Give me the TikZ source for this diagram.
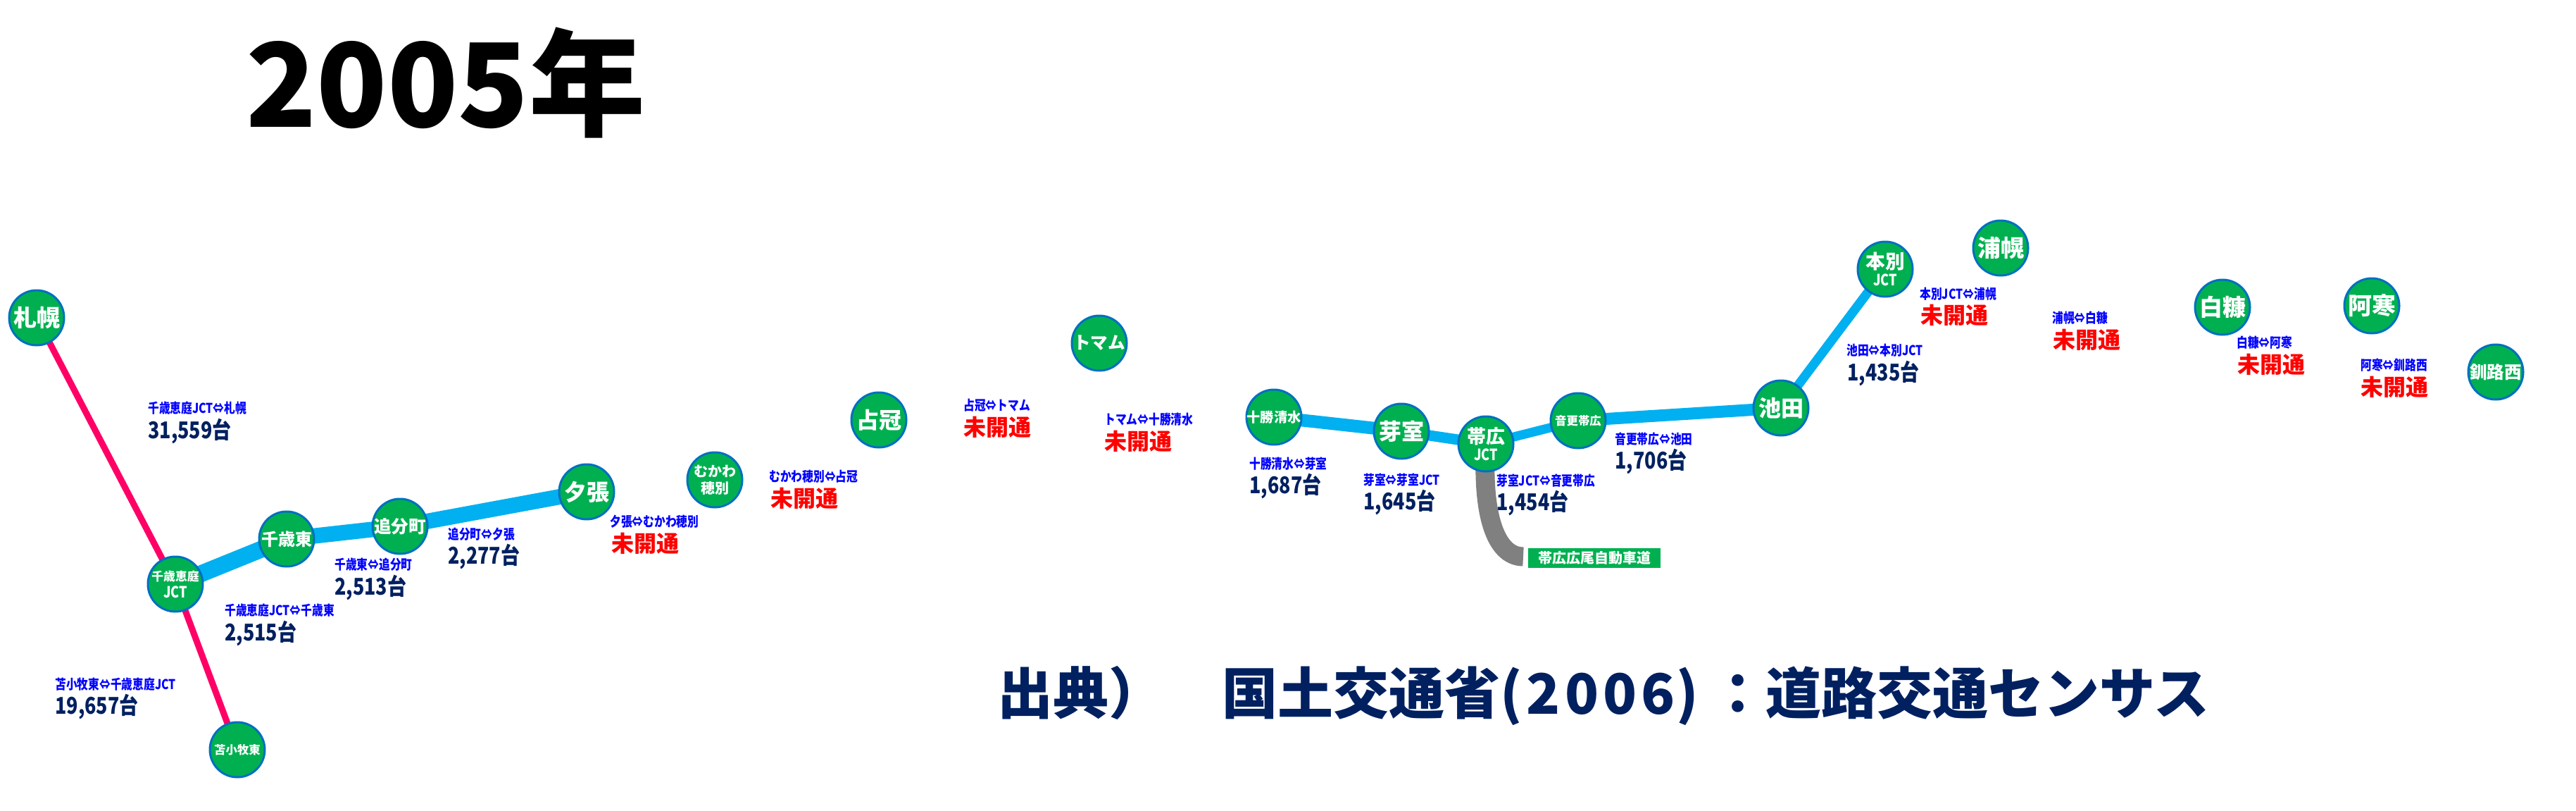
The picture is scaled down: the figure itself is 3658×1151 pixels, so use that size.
\documentclass[tikz,border=0pt]{standalone}
\usepackage{fontspec}
\setmainfont{Noto Sans CJK JP}
\newfontfamily\cond[FakeStretch=0.82]{Noto Sans CJK JP}
\newcommand\zb[1]{\makebox[0pt]{#1}}
\newcommand\nm[2]{\fontsize{#1}{#1}\selectfont\bfseries\zb{#2}}
\newcommand\jct[3]{\fontsize{#1}{#3}\selectfont\bfseries\zb{#2}\\\cond\fontsize{11}{#3}\selectfont\bfseries\zb{JCT}}
\newcommand\twol[3]{\fontsize{#1}{12}\selectfont\bfseries\zb{#2}\\\zb{#3}}
\definecolor{navy}{HTML}{002060}
\definecolor{grn}{HTML}{00B050}
\definecolor{edge}{HTML}{0070C0}
\definecolor{road}{HTML}{00B0F0}
\definecolor{pinkroad}{HTML}{FF0066}
\tikzset{
 stn/.style={circle,draw=edge,fill=grn,line width=1.5pt,minimum size=39pt,inner sep=0pt,text=white,align=center,font=\bfseries},
 sec/.style={anchor=west,inner sep=0pt,text=blue,font=\cond\bfseries\fontsize{9.6}{9.6}\selectfont},
 cnt/.style={anchor=west,inner sep=0pt,text=navy,font=\cond\bfseries\fontsize{16.4}{16.4}\selectfont},
 nop/.style={anchor=west,inner sep=0pt,text=red,font=\bfseries\fontsize{16}{16}\selectfont},
 pk/.style={draw=pinkroad,line width=4.5pt},
 bl/.style={draw=road,line width=#1},
}
\begin{document}
\begin{tikzpicture}[x=0.5pt,y=-0.5pt]
\useasboundingbox (0,0) rectangle (3658,1151);
\node[anchor=west,inner sep=0pt,font=\bfseries\fontsize{82.5}{82.5}\selectfont] (title) at (349,117) {2005年};
\node[anchor=west,inner sep=0pt,text=navy,font=\bfseries\fontsize{39.5}{39.5}\selectfont] (src) at (1416,987) {出典）\hspace{41pt}国土交通省(\kern3pt 2\kern3pt 0\kern3pt 0\kern3pt 6\kern1pt)\hspace{8pt}：道路交通センサス};

\coordinate (sapporo) at (52,451);
\coordinate (eniwa) at (249,829);
\coordinate (tomak) at (337,1064);
\coordinate (chit) at (407,765);
\coordinate (oiwake) at (568,747);
\coordinate (yubari) at (833,698);
\coordinate (tokach) at (1809,592);
\coordinate (memuro) at (1990,612);
\coordinate (obi) at (2110,630);
\coordinate (otofuke) at (2241,597);
\coordinate (ikeda) at (2529,579);
\coordinate (honbetsu) at (2677,382);
\coordinate (obend) at (2163,790);

\node[anchor=west,fill=grn,text=white,inner sep=0pt,minimum width=94pt,minimum height=14pt,font=\bfseries\fontsize{10}{10}\selectfont] (oblabel) at (2170,792) {帯広広尾自動車道};

\draw[pk] (sapporo) -- (eniwa);
\draw[pk] (eniwa) -- (tomak);
\draw[bl=12pt] (eniwa) -- (chit);
\draw[bl=11pt] (chit) -- (oiwake);
\draw[bl=11pt] (oiwake) -- (yubari);
\draw[bl=9pt] (tokach) -- (memuro);
\draw[bl=7.5pt] (memuro) -- (obi);
\draw[bl=6.5pt] (obi) -- (otofuke);
\draw[bl=8.5pt] (otofuke) -- (ikeda);
\draw[bl=6.5pt] (ikeda) -- (honbetsu);
\draw[draw=gray,line width=13.5pt] (obi) .. controls (2104,725) and (2122,790) .. (obend);

\node[stn] (n1) at (sapporo) {\nm{16.5}{札幌}};
\node[stn] (n2) at (eniwa) {\jct{8.4}{千歳恵庭}{10}};
\node[stn] (n3) at (tomak) {\nm{8.2}{苫小牧東}};
\node[stn] (n4) at (chit) {\nm{12}{千歳東}};
\node[stn] (n5) at (oiwake) {\nm{12.3}{追分町}};
\node[stn] (n6) at (yubari) {\nm{16}{夕張}};
\node[stn] (n7) at (1015,681) {\twol{10}{むかわ}{穂別}};
\node[stn] (n8) at (1248,596) {\nm{16}{占冠}};
\node[stn] (n9) at (1561,487) {\nm{12.3}{トマム}};
\node[stn] (n10) at (tokach) {\nm{9.6}{十勝清水}};
\node[stn] (n11) at (memuro) {\nm{16}{芽室}};
\node[stn] (n12) at (obi) {\jct{13.5}{帯広}{14}};
\node[stn] (n13) at (otofuke) {\nm{8.2}{音更帯広}};
\node[stn] (n14) at (ikeda) {\nm{16}{池田}};
\node[stn] (n15) at (honbetsu) {\jct{13.8}{本別}{14}};
\node[stn] (n16) at (2841,352) {\nm{16.5}{浦幌}};
\node[stn] (n17) at (3156,436) {\nm{16.5}{白糠}};
\node[stn] (n18) at (3368,434) {\nm{17}{阿寒}};
\node[stn] (n19) at (3544,528) {\nm{12.3}{釧路西}};

\node[sec] (s1) at (210,579) {千歳恵庭JCT⇔札幌};
\node[cnt] (c1) at (210,612) {31,559台};
\node[sec] (s2) at (319,866) {千歳恵庭JCT⇔千歳東};
\node[cnt] (c2) at (319,899) {2,515台};
\node[sec] (s3) at (475,801) {千歳東⇔追分町};
\node[cnt] (c3) at (475,834) {2,513台};
\node[sec] (s4) at (636,758) {追分町⇔夕張};
\node[cnt] (c4) at (636,790) {2,277台};
\node[sec] (s5) at (78,971) {苫小牧東⇔千歳恵庭JCT};
\node[cnt] (c5) at (78,1003) {19,657台};
\node[sec] (s6) at (866,740) {夕張⇔むかわ穂別};
\node[nop] (c6) at (868,771) {未開通};
\node[sec] (s7) at (1092,676) {むかわ穂別⇔占冠};
\node[nop] (c7) at (1094,707) {未開通};
\node[sec] (s8) at (1368,575) {占冠⇔トマム};
\node[nop] (c8) at (1368,606) {未開通};
\node[sec] (s9) at (1568,595) {トマム⇔十勝清水};
\node[nop] (c9) at (1568,626) {未開通};
\node[sec] (s10) at (1774,658) {十勝清水⇔芽室};
\node[cnt] (c10) at (1774,690) {1,687台};
\node[sec] (s11) at (1936,681) {芽室⇔芽室JCT};
\node[cnt] (c11) at (1936,713) {1,645台};
\node[sec] (s12) at (2125,682) {芽室JCT⇔音更帯広};
\node[cnt] (c12) at (2125,714) {1,454台};
\node[sec] (s13) at (2293,623) {音更帯広⇔池田};
\node[cnt] (c13) at (2293,655) {1,706台};
\node[sec] (s14) at (2622,497) {池田⇔本別JCT};
\node[cnt] (c14) at (2623,530) {1,435台};
\node[sec] (s15) at (2726,417) {本別JCT⇔浦幌};
\node[nop] (c15) at (2727,447) {未開通};
\node[sec] (s16) at (2914,451) {浦幌⇔白糠};
\node[nop] (c16) at (2915,482) {未開通};
\node[sec] (s17) at (3176,486) {白糠⇔阿寒};
\node[nop] (c17) at (3177,517) {未開通};
\node[sec] (s18) at (3352,518) {阿寒⇔釧路西};
\node[nop] (c18) at (3352,549) {未開通};
\end{tikzpicture}
\end{document}
